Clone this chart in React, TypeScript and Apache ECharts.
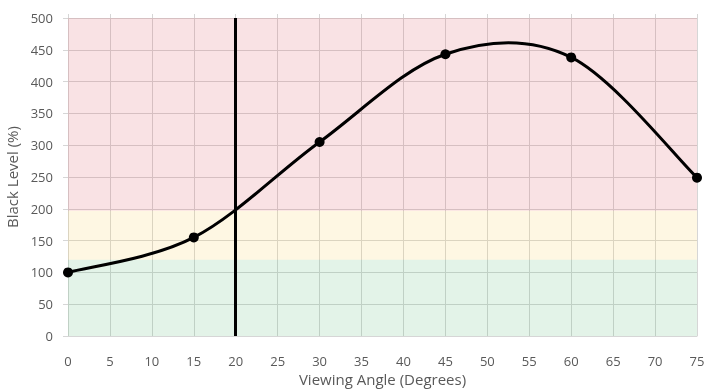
import React, { useEffect, useRef } from "react";
import * as echarts from "echarts";

const angles = [0, 15, 30, 45, 60, 75];
const blackLevel = [100, 155, 305, 443, 438, 249];
const xTicks = [0, 5, 10, 15, 20, 25, 30, 35, 40, 45, 50, 55, 60, 65, 70, 75];
const markerAngle = 20;
const greenBand = [0, 120];
const yellowBand = [120, 197];
const redBand = [197, 500];

export default function App() {
  const ref = useRef<HTMLDivElement>(null);
  useEffect(() => {
    if (!ref.current) return;
    const chart = echarts.init(ref.current, undefined, { renderer: "svg" });
    const font = "'Open Sans', 'Segoe UI', sans-serif";
    const labelColor = "#595959";
    const gridColor = "#d6d6d6";
    const points = angles.map((a, i) => [a, blackLevel[i]]);
    chart.setOption({
      animation: false,
      grid: { left: 68, right: 27, top: 18, bottom: 54, outerBoundsMode: "none", containLabel: false },
      xAxis: [
        {
          type: "value",
          min: xTicks[0],
          max: xTicks[xTicks.length - 1],
          interval: 5,
          name: "Viewing Angle (Degrees)",
          nameLocation: "middle",
          nameGap: 34,
          nameTextStyle: { color: labelColor, fontSize: 15, fontFamily: font },
          axisLine: { show: true, lineStyle: { color: gridColor, width: 1 } },
          axisTick: { show: false },
          axisLabel: { color: labelColor, fontSize: 13, fontFamily: font, margin: 18 },
          splitLine: { show: true, lineStyle: { color: gridColor, width: 1 } },
        },
        {
          type: "value",
          position: "top",
          min: xTicks[0],
          max: xTicks[xTicks.length - 1],
          interval: 5,
          axisLine: { show: false },
          axisTick: { show: true, length: 4, lineStyle: { color: gridColor } },
          axisLabel: { show: false },
          splitLine: { show: false },
        },
      ],
      yAxis: {
        type: "value",
        min: 0,
        max: 500,
        interval: 50,
        name: "Black Level (%)",
        nameLocation: "middle",
        nameGap: 37,
        nameTextStyle: { color: labelColor, fontSize: 15, fontFamily: font },
        axisLine: { show: false },
        axisTick: { show: true, length: 5, lineStyle: { color: gridColor } },
        axisLabel: { color: labelColor, fontSize: 13, fontFamily: font, margin: 15 },
        splitLine: { show: true, lineStyle: { color: gridColor, width: 1 } },
      },
      series: [
        {
          type: "custom",
          xAxisIndex: 0,
          data: [points[0]],
          clip: false,
          silent: true,
          z: 3,
          renderItem: (params: any, api: any) => {
            const px = points.map((p) => api.coord(p));
            const n = px.length;
            let d = `M${px[0][0]},${px[0][1]}`;
            for (let i = 0; i < n - 1; i++) {
              const p0 = px[Math.max(i - 1, 0)];
              const p1 = px[i];
              const p2 = px[i + 1];
              const p3 = px[Math.min(i + 2, n - 1)];
              const c1x = p1[0] + (p2[0] - p0[0]) / 6;
              const c1y = p1[1] + (p2[1] - p0[1]) / 6;
              const c2x = p2[0] - (p3[0] - p1[0]) / 6;
              const c2y = p2[1] - (p3[1] - p1[1]) / 6;
              d += ` C${c1x},${c1y} ${c2x},${c2y} ${p2[0]},${p2[1]}`;
            }
            return {
              type: "path",
              shape: { pathData: d },
              style: { stroke: "#000", lineWidth: 3, fill: "none" },
            };
          },
        },
        {
          type: "scatter",
          xAxisIndex: 0,
          data: points,
          symbol: "circle",
          symbolSize: 10,
          itemStyle: { color: "#000", opacity: 1 },
          z: 4,
          markArea: {
            silent: true,
            data: [
              [{ yAxis: greenBand[0], itemStyle: { color: "rgba(68,175,102,0.15)" } }, { yAxis: greenBand[1] }],
              [{ yAxis: yellowBand[0], itemStyle: { color: "rgba(248,202,68,0.15)" } }, { yAxis: yellowBand[1] }],
              [{ yAxis: redBand[0], itemStyle: { color: "rgba(215,62,75,0.15)" } }, { yAxis: redBand[1] }],
            ],
          },
          markLine: {
            silent: true,
            symbol: ["none", "none"],
            label: { show: false },
            lineStyle: { color: "#000", width: 3, type: "solid" },
            data: [{ xAxis: markerAngle }],
          },
        },
      ],
    });
    return () => chart.dispose();
  }, []);
  return <div ref={ref} style={{ position: "fixed", left: 0, top: 0, width: 724, height: 390 }} />;
}
